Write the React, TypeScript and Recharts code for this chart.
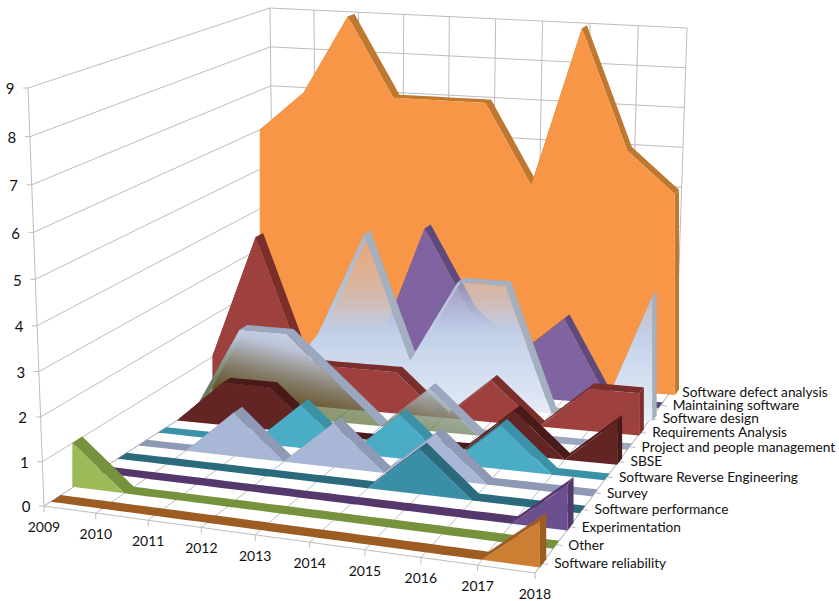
import React from "react";
import { ComposedChart, Area, XAxis, YAxis, ReferenceLine, ReferenceDot } from "recharts";

// Publications per topic and year
const years = [2009, 2010, 2011, 2012, 2013, 2014, 2015, 2016, 2017, 2018];
const valueTicks = [0, 1, 2, 3, 4, 5, 6, 7, 8, 9];

const softwareReliability = [0, 0, 0, 0, 0, 0, 0, 0, 0, 1];
const other = [1, 0, 0, 0, 0, 0, 0, 0, 0, 0];
const experimentation = [0, 0, 0, 0, 0, 0, 0, 0, 0, 1];
const softwarePerformance = [0, 0, 0, 0, 0, 0, 1, 0, 0, 0];
const survey = [0, 0, 1, 0, 1, 0, 1, 0, 0, 0];
const reverseEngineering = [0, 0, 0, 1, 0, 1, 0, 1, 0, 0];
const sbse = [0, 1, 1, 0, 0, 0, 0, 1, 0, 1];
const projectPeople = [0, 2, 2, 1, 0, 1, 0, 0, 0, 0];
const requirements = [1, 4, 1, 1, 1, 0, 1, 0, 1, 1];
const softwareDesign = [0, 0, 1.5, 4, 1, 3, 3, 0, 0, 3];
const maintaining = [0, 0, 0, 1, 4, 2, 1, 2, 0, 0];
const defectAnalysis = [6, 7, 9, 7, 7, 7, 5, 9, 6, 5];

// Ordered from the front row to the back row of the depth axis
const rows = [
  { name: "Software reliability", values: softwareReliability, face: "#cc7e33", side: "#9c5c22" },
  { name: "Other", values: other, face: "#9bbb59", side: "#76923c" },
  { name: "Experimentation", values: experimentation, face: "#6b4f8e", side: "#54386b" },
  { name: "Software performance", values: softwarePerformance, face: "#3a8ea8", side: "#2b6a7d" },
  { name: "Survey", values: survey, face: "#a9b7d6", side: "#8e9ab5" },
  { name: "Software Reverse Engineering", values: reverseEngineering, face: "#4bacc6", side: "#3a92a8" },
  { name: "SBSE", values: sbse, face: "#632523", side: "#4a1a18" },
  { name: "Project and people management", values: projectPeople, face: "url(#projectFill)", side: "#9aa7bf" },
  { name: "Requirements Analysis", values: requirements, face: "#9e403d", side: "#7a2f2d" },
  { name: "Software design", values: softwareDesign, face: "url(#designFill)", side: "#a4afc0" },
  { name: "Maintaining software", values: maintaining, face: "#8064a2", side: "#5f4a80" },
  { name: "Software defect analysis", values: defectAnalysis, face: "#f79646", side: "#c07830" },
];

type Pt = { x: number; y: number };

// Perspective box: floor and ceiling corners (front-left, front-right, back-right, back-left)
const floorQuad: Pt[] = [{ x: 44, y: 506 }, { x: 535, y: 573 }, { x: 675, y: 386 }, { x: 274, y: 358 }];
const ceilingQuad: Pt[] = [{ x: 28, y: 88 }, { x: 543, y: 132 }, { x: 687, y: 28 }, { x: 270, y: 8 }];
const ROW_GAP = 0.28;
const ROW_DEPTH = 0.44;

// Foreshortening of each axis of the box
const warp = (t: number, r: number) => (t <= 0 ? 0 : t >= 1 ? 1 : t / (t + (1 - t) * r));
const YEAR_WARP = 1.06;
const DEPTH_WARP = 0.8;
const VALUE_WARP_FRONT = 1.055;

const mix = (a: Pt, b: Pt, t: number): Pt => ({ x: a.x + (b.x - a.x) * t, y: a.y + (b.y - a.y) * t });

function quadAt(q: Pt[], u: number, w: number): Pt {
  const uu = warp(u, YEAR_WARP);
  const ww = warp(w, DEPTH_WARP);
  return mix(mix(q[0], q[1], uu), mix(q[3], q[2], uu), ww);
}

// Projects a (year fraction, depth fraction, value) triple to the drawing plane
function project(u: number, w: number, v: number): Pt {
  const depth = warp(w, DEPTH_WARP);
  const r = VALUE_WARP_FRONT - (VALUE_WARP_FRONT - 1) * Math.min(1, depth / 0.4);
  return mix(quadAt(floorQuad, u, w), quadAt(ceilingQuad, u, w), warp(v / 9, r));
}

const lerpAt = (a: Pt, b: Pt, x: number) => (b.x === a.x ? a.y : a.y + ((b.y - a.y) * (x - a.x)) / (b.x - a.x));

function polyAt(line: Pt[], x: number): number | null {
  for (let i = 0; i < line.length - 1; i++) {
    if (x >= line[i].x && x <= line[i + 1].x) return lerpAt(line[i], line[i + 1], x);
  }
  return null;
}

// Front face of a row as x + [base, top] records
function faceData(values: number[], w: number) {
  return values.map((v, i) => {
    const u = i / 9;
    const top = project(u, w, v);
    const base = project(u, w, 0);
    return { x: top.x, band: [base.y, top.y] };
  });
}

// The strip swept by the row's top edge between its front and back planes
function stripData(values: number[], w0: number, w1: number) {
  const front = values.map((v, i) => project(i / 9, w0, v));
  const back = values.map((v, i) => project(i / 9, w1, v));
  const marks = [...front, ...back].map((p) => p.x).sort((a, b) => a - b);
  const xs: number[] = [];
  marks.forEach((m, i) => {
    if (i === 0) { xs.push(m); return; }
    const prev = marks[i - 1];
    for (let s = 1; s <= 4; s++) xs.push(prev + ((m - prev) * s) / 4);
  });
  const out: { x: number; band: number[] }[] = [];
  xs.forEach((x) => {
    const ys: number[] = [];
    const a = polyAt(front, x), b = polyAt(back, x);
    if (a !== null) ys.push(a);
    if (b !== null) ys.push(b);
    front.forEach((p, i) => {
      const q = back[i];
      if (x >= p.x && x <= q.x) ys.push(lerpAt(p, q, x));
    });
    if (ys.length) out.push({ x, band: [Math.max(...ys), Math.min(...ys)] });
  });
  return out;
}

// The end cap closing the row at its last year
function capData(values: number[], w0: number, w1: number) {
  const v = values[values.length - 1];
  return [w0, w1].map((w) => {
    const top = project(1, w, v);
    return { x: top.x, band: [project(1, w, 0).y, top.y] };
  });
}

const gridStroke = "#bcbcbc";
const seg = (a: Pt, b: Pt) => [{ x: a.x, y: a.y }, { x: b.x, y: b.y }] as any;
const textColor = "#111111";
const fontFamily = "Lato, 'Open Sans', sans-serif";

export default function App() {
  const gridLines: [Pt, Pt][] = [];
  valueTicks.forEach((v) => {
    gridLines.push([project(0, 0, v), project(0, 1, v)]);
    gridLines.push([project(0, 1, v), project(1, 1, v)]);
    const a = project(0, 0, v);
    gridLines.push([a, { x: a.x - 5, y: a.y }]);
  });
  years.forEach((_, i) => {
    const u = i / 9;
    gridLines.push([project(u, 0, 0), project(u, 1, 0)]);
    gridLines.push([project(u, 1, 0), project(u, 1, 9)]);
    const f = project(u, 0, 0);
    gridLines.push([f, { x: f.x, y: f.y + 6 }]);
  });
  gridLines.push([project(0, 0, 0), project(1, 0, 0)]);
  gridLines.push([project(1, 0, 0), project(1, 1, 0)]);
  gridLines.push([project(0, 0, 0), project(0, 0, 9)]);
  gridLines.push([project(0, 1, 0), project(1, 1, 0)]);
  rows.forEach((_, k) => {
    const p = project(1, (k + 0.5) / rows.length, 0);
    gridLines.push([p, { x: p.x + 6, y: p.y + 1 }]);
  });

  const order = rows.map((r, k) => ({ ...r, k })).reverse();

  return (
    <div style={{ position: "absolute", left: 0, top: 0, fontFamily }}>
      <ComposedChart width={839} height={601} margin={{ top: 0, right: 0, bottom: 0, left: 0 }}>
        <defs>
          <linearGradient id="designFill" x1="0" y1="0" x2="0" y2="1">
            <stop offset="0" stopColor="#c4cfe6" stopOpacity={0.25} />
            <stop offset="0.3" stopColor="#c0cce6" stopOpacity={0.6} />
            <stop offset="0.52" stopColor="#c0cfe8" stopOpacity={1} />
            <stop offset="1" stopColor="#e8eef8" stopOpacity={1} />
          </linearGradient>
          <linearGradient id="projectFill" gradientUnits="userSpaceOnUse" x1="300" y1="335" x2="283" y2="402">
            <stop offset="0" stopColor="#c6d5ee" stopOpacity={1} />
            <stop offset="0.25" stopColor="#bcc8dc" stopOpacity={0.95} />
            <stop offset="1" stopColor="#4f6228" stopOpacity={0.65} />
          </linearGradient>
        </defs>
        <XAxis dataKey="x" type="number" domain={[0, 839]} hide allowDataOverflow />
        <YAxis type="number" domain={[0, 601]} reversed hide allowDataOverflow />

        {gridLines.map((l, i) => (
          <ReferenceLine key={`g${i}`} segment={seg(l[0], l[1])} stroke={gridStroke} strokeWidth={1} ifOverflow="visible" zIndex={-50} />
        ))}

        {order.flatMap((r) => {
          const w0 = (r.k + ROW_GAP) / rows.length;
          const w1 = (r.k + ROW_GAP + ROW_DEPTH) / rows.length;
          return [
            <Area key={`s${r.k}`} data={stripData(r.values, w0, w1)} dataKey="band" type="linear" fill={r.side} fillOpacity={1} stroke="none" isAnimationActive={false} dot={false} activeDot={false} />,
            <Area key={`c${r.k}`} data={capData(r.values, w0, w1)} dataKey="band" type="linear" fill={r.side} fillOpacity={1} stroke="none" isAnimationActive={false} dot={false} activeDot={false} />,
            <Area key={`f${r.k}`} data={faceData(r.values, w0)} dataKey="band" type="linear" fill={r.face} fillOpacity={1} stroke="none" isAnimationActive={false} dot={false} activeDot={false} />,
          ];
        })}

        {valueTicks.map((v) => {
          const p = project(0, 0, v);
          return (
            <ReferenceDot key={`v${v}`} x={p.x - 18} y={p.y + 1} r={0} fill="none" stroke="none" ifOverflow="visible"
              label={{ value: String(v), position: "center", fontSize: 15, fill: textColor }} />
          );
        })}
        {years.map((y, i) => {
          const p = project(i / 9, 0, 0);
          return (
            <ReferenceDot key={`y${y}`} x={p.x} y={p.y + 21} r={0} fill="none" stroke="none" ifOverflow="visible"
              label={{ value: String(y), position: "center", fontSize: 14, fill: textColor }} />
          );
        })}
        {rows.map((r, k) => {
          const p = project(1, (k + 0.5) / rows.length, 0);
          return (
            <ReferenceDot key={`n${k}`} x={p.x + 12} y={p.y} r={0} fill="none" stroke="none" ifOverflow="visible"
              label={{ value: r.name, position: "right", offset: 0, fontSize: 13.7, fill: textColor }} />
          );
        })}
      </ComposedChart>
    </div>
  );
}
